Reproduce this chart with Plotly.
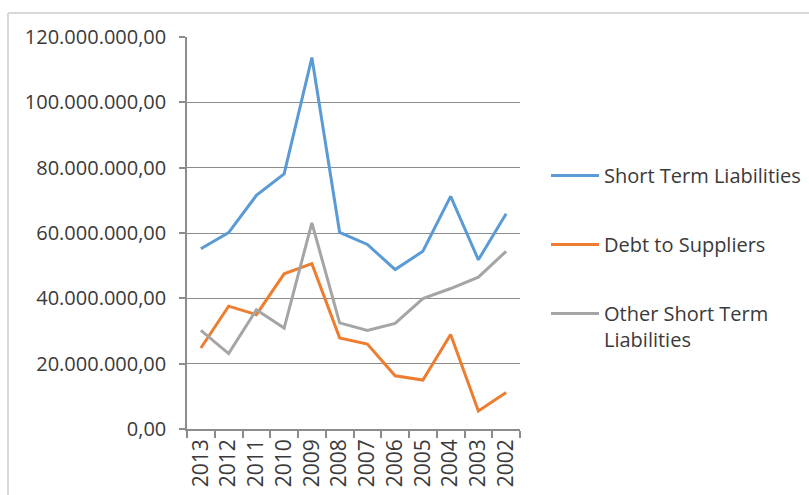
import plotly.graph_objects as go

# Years shown on the category axis (most recent first)
years = ["2013", "2012", "2011", "2010", "2009", "2008", "2007", "2006",
         "2005", "2004", "2003", "2002"]

# Balance sheet values per year
short_term_liabilities = [55.2e6, 60.1e6, 71.5e6, 78.1e6, 113.7e6, 60.2e6,
                          56.5e6, 48.8e6, 54.4e6, 71.2e6, 51.8e6, 65.9e6]
debt_to_suppliers = [24.8e6, 37.6e6, 35.0e6, 47.5e6, 50.6e6, 27.9e6,
                     26.0e6, 16.3e6, 15.0e6, 28.9e6, 5.5e6, 11.2e6]
other_short_term = [30.2e6, 23.1e6, 36.5e6, 30.9e6, 63.1e6, 32.5e6,
                    30.2e6, 32.3e6, 39.9e6, 43.0e6, 46.5e6, 54.4e6]

series_names = ["Short Term Liabilities", "Debt to Suppliers",
                "Other Short Term<br>Liabilities"]
series_values = [short_term_liabilities, debt_to_suppliers, other_short_term]
series_colors = ["#5B9BD5", "#ED7D31", "#A5A5A5"]

y_ticks = [0, 20e6, 40e6, 60e6, 80e6, 100e6, 120e6]
y_tick_text = ["0,00", "20.000.000,00", "40.000.000,00", "60.000.000,00",
               "80.000.000,00", "100.000.000,00", "120.000.000,00"]

FONT = "Open Sans, Lato, sans-serif"
TEXT = "#3A3A3A"

fig = go.Figure()
for i, (name, vals, col) in enumerate(zip(series_names, series_values, series_colors)):
    fig.add_trace(go.Scatter(
        x=years, y=vals, name=name, mode="lines",
        line=dict(color=col, width=3),
        legendgroup=f"g{i}",
    ))

W, H = 809, 495
L, R, T, B = 187, 520, 37, 429

fig.update_layout(
    width=W, height=H,
    margin=dict(l=L, r=W - R, t=T, b=H - B, autoexpand=False),
    paper_bgcolor="white", plot_bgcolor="white",
    font=dict(family=FONT, size=20, color=TEXT),
    showlegend=True,
    legend=dict(
        x=(546 - L) / (R - L), xanchor="left",
        y=(429 - 156) / (B - T), yanchor="top",
        font=dict(family=FONT, size=20, color=TEXT),
        itemwidth=48,
        tracegroupgap=40, valign="top",
        bgcolor="rgba(0,0,0,0)",
    ),
    xaxis=dict(
        type="category", range=[-0.5, 11.5],
        showgrid=False, showline=True, linecolor="#8C8C8C", linewidth=1.5,
        ticks="outside", tickson="boundaries", ticklen=7,
        tickcolor="#8C8C8C", tickwidth=1.5,
        tickangle=-90, tickfont=dict(family=FONT, size=21, color=TEXT),
        fixedrange=True,
    ),
    yaxis=dict(
        range=[0, 120e6], tickvals=y_ticks, ticktext=y_tick_text,
        showgrid=True, gridcolor="#8C8C8C", gridwidth=1.2,
        showline=True, linecolor="#8C8C8C", linewidth=1.5,
        ticks="outside", ticklen=6, tickcolor="#8C8C8C", tickwidth=1.5,
        ticklabelstandoff=9,
        tickfont=dict(family=FONT, size=20, color=TEXT),
        zeroline=False, fixedrange=True,
    ),
)

# Light frame around the chart area (top and left edges)
def px_x(p):
    return (p - L) / (R - L)

def px_y(p):
    return (B - p) / (B - T)

fig.add_shape(type="line", xref="paper", yref="paper",
              x0=px_x(8), x1=px_x(812), y0=px_y(13), y1=px_y(13),
              line=dict(color="#D9D9D9", width=2))
fig.add_shape(type="line", xref="paper", yref="paper",
              x0=px_x(8), x1=px_x(8), y0=px_y(13), y1=px_y(498),
              line=dict(color="#D9D9D9", width=2))

fig.write_html("out.html")
